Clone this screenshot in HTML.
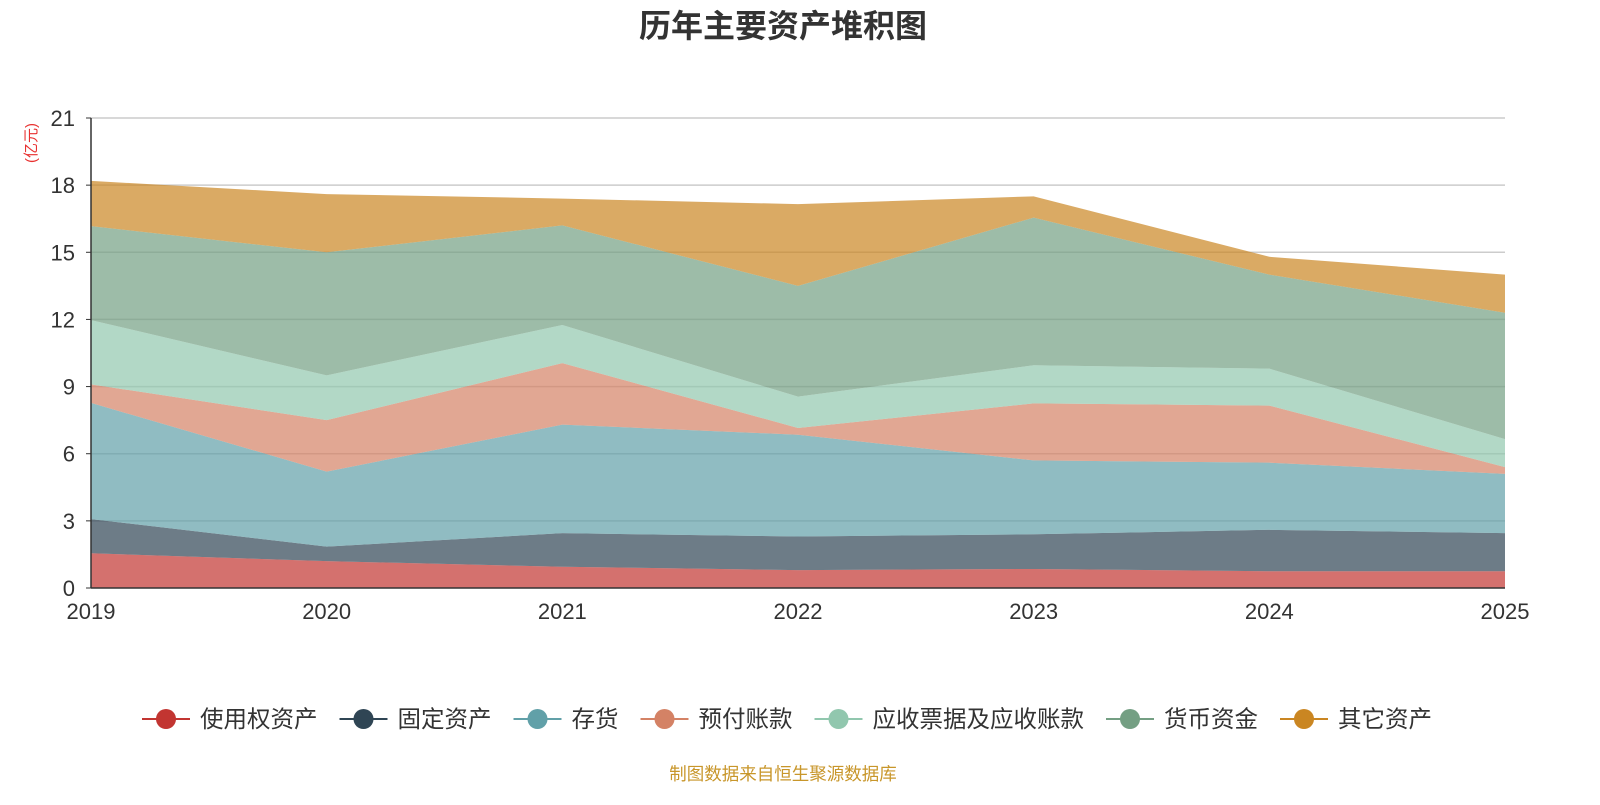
<!DOCTYPE html>
<html><head><meta charset="utf-8"><style>
body{margin:0;background:#fff;font-family:"Liberation Sans","Noto Sans CJK SC",sans-serif;}
svg text{font-family:"Liberation Sans","Noto Sans CJK SC",sans-serif;}
</style></head><body>
<svg id="c" width="1600" height="800">
<text x="783" y="37" text-anchor="middle" font-size="32" font-weight="bold" fill="#333">历年主要资产堆积图</text>
<text transform="translate(36,143) rotate(-90)" text-anchor="middle" font-size="15" fill="#e8302f">(亿元)</text>
<g id="grid"></g><g id="areas"></g><g id="axes"></g><g id="legend"></g>
<text x="783" y="780" text-anchor="middle" font-size="17.5" fill="#c8962a">制图数据来自恒生聚源数据库</text>
</svg>
<script>
const years=["2019","2020","2021","2022","2023","2024","2025"];
const seriesNames=["使用权资产","固定资产","存货","预付账款","应收票据及应收账款","货币资金","其它资产"];
const s0=[1.55,1.2,0.95,0.8,0.85,0.75,0.75];
const s1=[1.53,0.65,1.5,1.5,1.55,1.85,1.7];
const s2=[5.19,3.35,4.85,4.55,3.3,3.0,2.65];
const s3=[0.83,2.3,2.75,0.3,2.55,2.55,0.3];
const s4=[2.87,2.0,1.7,1.4,1.7,1.65,1.25];
const s5=[4.2,5.5,4.45,4.95,6.6,4.2,5.65];
const s6=[2.02,2.6,1.2,3.65,0.95,0.8,1.7];
const yTicks=[0,3,6,9,12,15,18,21];
const series=[s0,s1,s2,s3,s4,s5,s6];
const colors=["#c23531","#2f4554","#61a0a8","#d48265","#91c7ae","#749f83","#ca8622"];
const X0=91,X1=1505,Y0=588,Y1=118;
const x=i=>X0+(X1-X0)*i/(years.length-1);
const y=v=>Y0-(Y0-Y1)*v/21;
const NS="http://www.w3.org/2000/svg";
function mk(t,a,p){const e=document.createElementNS(NS,t);for(const k in a)e.setAttribute(k,a[k]);p.appendChild(e);return e;}
const G=document.getElementById('grid'),A=document.getElementById('areas'),AX=document.getElementById('axes'),L=document.getElementById('legend');
yTicks.forEach(t=>{
 if(t>0){const l=mk('line',{x1:X0,x2:X1,y1:y(t),y2:y(t),stroke:'#ccc','stroke-width':1.5},G);
 
 }
 const tk=mk('line',{x1:X0-5,x2:X0,y1:y(t),y2:y(t),stroke:'#333'},AX);
 
 
 const tx=mk('text',{x:X0-16,y:y(t)+8,'text-anchor':'end','font-size':22,fill:'#333'},AX);tx.textContent=t;
 
 
});
let base=years.map(()=>0);
series.forEach((s,k)=>{
 const top=base.map((b,i)=>b+s[i]);
 let d='M'+top.map((v,i)=>x(i)+','+y(v)).join('L');
 for(let i=years.length-1;i>=0;i--)d+='L'+x(i)+','+y(base[i]);
 const p=mk('path',{d:d+'Z',fill:colors[k],'fill-opacity':0.7,stroke:'none'},A);
 
 
 base=top;
});
mk('line',{x1:X0,x2:X0,y1:Y1,y2:Y0,stroke:'#333','stroke-width':1.5},AX);
mk('line',{x1:X0,x2:X1,y1:Y0,y2:Y0,stroke:'#333','stroke-width':1.5},AX);
years.forEach((yr,i)=>{
 const t=mk('text',{x:x(i),y:Y0+31,'text-anchor':'middle','font-size':22,fill:'#333'},AX);t.textContent=yr;
 
 
});
let lx=142;const ly=719;
seriesNames.forEach((n,k)=>{
 const g=mk('g',{},L);
 
 
 mk('line',{x1:lx,x2:lx+48,y1:ly,y2:ly,stroke:colors[k],'stroke-width':2},g);
 mk('circle',{cx:lx+24,cy:ly,r:10,fill:colors[k]},g);
 const t=mk('text',{x:lx+58,y:ly+8,'font-size':23.5,fill:'#333'},g);t.textContent=n;
 lx+=58+n.length*23.5+22;
});
</script>
</body></html>
